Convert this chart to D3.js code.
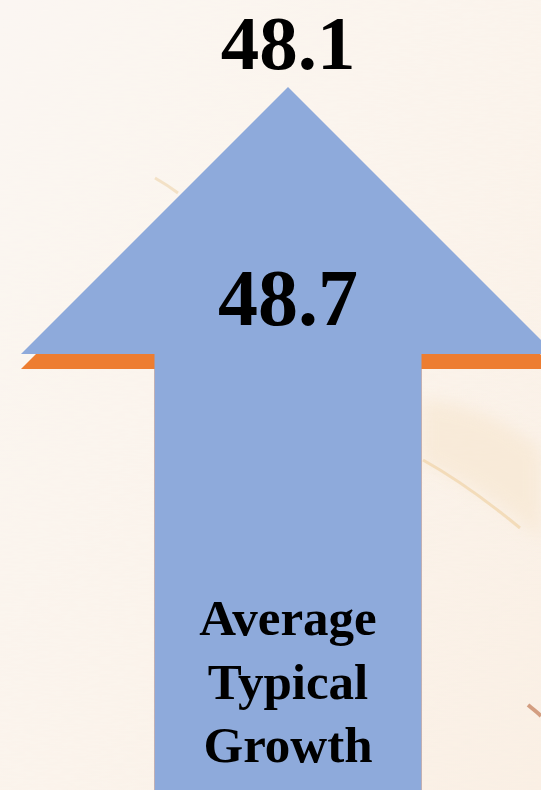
<!DOCTYPE html>
<html>
<head>
<meta charset="utf-8">
<script src="https://cdn.jsdelivr.net/npm/d3@7"></script>
<style>
  html, body { margin: 0; padding: 0; background: #faf3ec; }
  svg { display: block; }
</style>
</head>
<body>
<svg id="chart" width="541" height="790"></svg>
<script>
// ---- data ----
const seriesNames = ["Comparison", "Average Typical Growth"];
const seriesValues = [48.1, 48.7];
const seriesColors = ["#ed7d31", "#8eaadb"];
const topLabel = "48.1";
const headLabel = "48.7";
const categoryLabel = ["Average", "Typical", "Growth"];

const W = 541, H = 790;
const svg = d3.select("#chart");

// ---- background paper ----
const defs = svg.append("defs");
const f = defs.append("filter").attr("id", "paper").attr("x", 0).attr("y", 0).attr("width", "100%").attr("height", "100%");
f.append("feTurbulence").attr("type", "fractalNoise").attr("baseFrequency", "0.08 0.5").attr("numOctaves", 2).attr("seed", 3).attr("result", "n");
f.append("feColorMatrix").attr("in", "n").attr("type", "matrix")
  .attr("values", "0 0 0 0 0.85  0 0 0 0 0.78  0 0 0 0 0.70  0 0 0 0.08 0").attr("result", "c");
f.append("feComposite").attr("in", "c").attr("in2", "SourceGraphic").attr("operator", "over");

const grad = defs.append("linearGradient").attr("id", "bg").attr("x1", 0).attr("y1", 0).attr("x2", 1).attr("y2", 1);
grad.append("stop").attr("offset", "0%").attr("stop-color", "#fcf7f3");
grad.append("stop").attr("offset", "55%").attr("stop-color", "#fbf4ec");
grad.append("stop").attr("offset", "100%").attr("stop-color", "#faf0e4");
svg.append("rect").attr("width", W).attr("height", H).attr("fill", "url(#bg)").attr("filter", "url(#paper)");

const blur = defs.append("filter").attr("id", "soft");
blur.append("feGaussianBlur").attr("stdDeviation", 8);
// stains
svg.append("path").attr("d", "M421,400 C470,400 520,430 541,450 L541,540 C500,500 460,480 421,462 Z")
  .attr("fill", "#f7e6cf").attr("opacity", 0.6).attr("filter", "url(#soft)");
svg.append("path").attr("d", "M423,460 C450,475 480,495 520,528")
  .attr("stroke", "#efcf9f").attr("stroke-width", 3).attr("fill", "none").attr("opacity", 0.6);
svg.append("path").attr("d", "M155,178 C162,182 170,187 178,193")
  .attr("stroke", "#efd9b5").attr("stroke-width", 3).attr("fill", "none").attr("opacity", 0.7);
svg.append("path").attr("d", "M528,705 C533,709 537,712 541,716")
  .attr("stroke", "#c98a68").attr("stroke-width", 4).attr("fill", "none").attr("opacity", 0.8);

// ---- scales ----
const y = d3.scaleLinear().domain([48.1, 48.7]).range([102, 87]);
const x = d3.scaleBand().domain(["arrow"]).range([21, 555]).padding(0);
const headH = 267;        // arrowhead height (px)
const shaftHalf = 133.5;  // shaft half width (px)

function arrowPath(v) {
  const cx = x("arrow") + x.bandwidth() / 2;
  const half = x.bandwidth() / 2;
  const tip = y(v);
  const base = tip + headH;
  const p = d3.path();
  p.moveTo(cx, tip);
  p.lineTo(cx + half, base);
  p.lineTo(cx + shaftHalf, base);
  p.lineTo(cx + shaftHalf, H + 10);
  p.lineTo(cx - shaftHalf, H + 10);
  p.lineTo(cx - shaftHalf, base);
  p.lineTo(cx - half, base);
  p.closePath();
  return p.toString();
}

svg.append("g").selectAll("path")
  .data(seriesValues.map((v, i) => ({ v, c: seriesColors[i], n: seriesNames[i] })))
  .join("path")
  .attr("d", d => arrowPath(d.v))
  .attr("fill", d => d.c);

// ---- labels ----
const font = "'Liberation Serif', 'DejaVu Serif', serif";
const cx = x("arrow") + x.bandwidth() / 2;

svg.append("text").attr("x", cx).attr("y", 69)
  .attr("text-anchor", "middle").attr("font-family", font).attr("font-weight", "bold")
  .attr("font-size", 77).attr("fill", "#000").text(topLabel);

svg.append("text").attr("x", cx).attr("y", 325)
  .attr("text-anchor", "middle").attr("font-family", font).attr("font-weight", "bold")
  .attr("font-size", 80).attr("fill", "#000").text(headLabel);

const baselines = [635, 699, 762];
svg.append("g").selectAll("text").data(categoryLabel).join("text")
  .attr("x", cx).attr("y", (d, i) => baselines[i])
  .attr("text-anchor", "middle").attr("font-family", font).attr("font-weight", "bold")
  .attr("font-size", 51).attr("fill", "#000").text(d => d);
</script>
</body>
</html>
